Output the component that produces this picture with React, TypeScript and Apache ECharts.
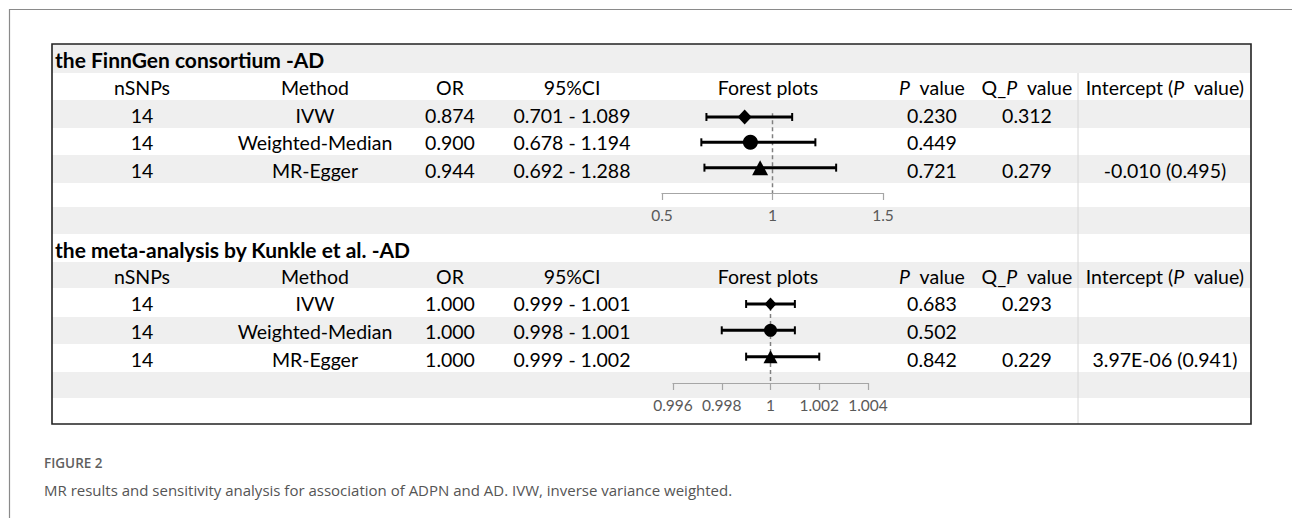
import React, { useEffect, useRef } from 'react';
import * as echarts from 'echarts';

// ---------- data ----------
const sectionTitles = ['the FinnGen consortium -AD', 'the meta-analysis by Kunkle et al. -AD'];
const methods = ['IVW', 'Weighted-Median', 'MR-Egger'];
const markerSymbols = ['diamond', 'circle', 'triangle'];

const nSNPs1 = ['14', '14', '14'];
const or1 = [0.874, 0.9, 0.944];
const lo1 = [0.701, 0.678, 0.692];
const hi1 = [1.089, 1.194, 1.288];
const p1 = ['0.230', '0.449', '0.721'];
const q1 = ['0.312', '', '0.279'];
const int1 = ['', '', '-0.010 (0.495)'];

const nSNPs2 = ['14', '14', '14'];
const or2 = [1.0, 1.0, 1.0];
const lo2 = [0.999, 0.998, 0.999];
const hi2 = [1.001, 1.001, 1.002];
const p2 = ['0.683', '0.502', '0.842'];
const q2 = ['0.293', '', '0.229'];
const int2 = ['', '', '3.97E-06 (0.941)'];

const axis1 = { min: 0.5, max: 1.5, interval: 0.5 };
const axis2 = { min: 0.996, max: 1.004, interval: 0.002 };
const refValue = 1;

// ---------- layout ----------
const FONT = 'Lato, "Noto Sans", sans-serif';
const FS = 19.5;
const rowEdges = [44, 73, 100, 128, 155, 183, 207, 234, 262, 288, 317, 344, 372, 398, 424];
const colX = [142, 315, 450, 572, 768, 932, 1027, 1165];
const TABLE_L = 52;
const TABLE_R = 1251;
const SEP_X = 1078;

function bandCenter(i: number) {
  return (rowEdges[i] + rowEdges[i + 1]) / 2 + 1;
}

function txt(text: string, x: number, y: number, extra: any = {}) {
  return {
    type: 'text',
    x,
    y,
    z: 5,
    style: {
      text,
      fill: '#000',
      fontSize: FS,
      fontFamily: FONT,
      align: 'center',
      verticalAlign: 'middle',
      ...extra,
    },
  };
}

const italicRich = {
  i: { fontStyle: 'italic', fontSize: FS, fontFamily: FONT, fill: '#000' },
};

function buildTableTexts(
  titleBand: number,
  title: string,
  nsnps: string[],
  ors: number[],
  los: number[],
  his: number[],
  ps: string[],
  qs: string[],
  ints: string[]
) {
  const out: any[] = [];
  out.push(txt(title, 55, bandCenter(titleBand), { align: 'left', fontWeight: 'bold', fontSize: 21 }));
  const hy = bandCenter(titleBand + 1);
  out.push(txt('nSNPs', colX[0], hy));
  out.push(txt('Method', colX[1], hy));
  out.push(txt('OR', colX[2], hy));
  out.push(txt('95%CI', colX[3], hy));
  out.push(txt('Forest plots', colX[4], hy));
  out.push(txt('{i|P}  value', colX[5], hy, { rich: italicRich }));
  out.push(txt('Q_{i|P}  value', colX[6], hy, { rich: italicRich }));
  out.push(txt('Intercept ({i|P}  value)', colX[7], hy, { rich: italicRich }));
  for (let r = 0; r < 3; r++) {
    const y = bandCenter(titleBand + 2 + r);
    out.push(txt(nsnps[r], colX[0], y));
    out.push(txt(methods[r], colX[1], y));
    out.push(txt(ors[r].toFixed(3), colX[2], y));
    out.push(txt(los[r].toFixed(3) + ' - ' + his[r].toFixed(3), colX[3], y));
    if (ps[r]) out.push(txt(ps[r], colX[5], y));
    if (qs[r]) out.push(txt(qs[r], colX[6], y));
    if (ints[r]) out.push(txt(ints[r], colX[7], y));
  }
  return out;
}

function ciRender(params: any, api: any) {
  const row = api.value(2);
  const a = api.coord([api.value(0), row]);
  const b = api.coord([api.value(1), row]);
  const cap = 4;
  const st = { stroke: '#000', lineWidth: 3 };
  const cs = { stroke: '#000', lineWidth: 2 };
  return {
    type: 'group',
    children: [
      { type: 'line', shape: { x1: a[0], y1: a[1], x2: b[0], y2: b[1] }, style: st },
      { type: 'line', shape: { x1: a[0], y1: a[1] - cap, x2: a[0], y2: a[1] + cap }, style: cs },
      { type: 'line', shape: { x1: b[0], y1: b[1] - cap, x2: b[0], y2: b[1] + cap }, style: cs },
    ],
  };
}

function fmtTick(v: number) {
  return String(+v.toFixed(3));
}

export default function App() {
  const ref = useRef<HTMLDivElement>(null);
  useEffect(() => {
    if (!ref.current) return;
    const chart = echarts.init(ref.current, null, { renderer: 'svg' });

    const graphics: any[] = [];
    // outer frame
    graphics.push({ type: 'line', z: 1, shape: { x1: 9, y1: 9.5, x2: 1292, y2: 9.5 }, style: { stroke: '#8a8a8a', lineWidth: 1.2 } });
    graphics.push({ type: 'line', z: 1, shape: { x1: 9.5, y1: 9, x2: 9.5, y2: 518 }, style: { stroke: '#8a8a8a', lineWidth: 1.2 } });
    // row bands
    for (let i = 0; i < rowEdges.length - 1; i++) {
      if (i % 2 === 0) {
        graphics.push({
          type: 'rect',
          z: -1,
          shape: { x: TABLE_L, y: rowEdges[i], width: TABLE_R - TABLE_L, height: rowEdges[i + 1] - rowEdges[i] },
          style: { fill: '#efefef' },
        });
      }
    }
    // separator
    graphics.push({ type: 'line', z: 1, shape: { x1: SEP_X, y1: rowEdges[1], x2: SEP_X, y2: rowEdges[14] }, style: { stroke: '#d6d6d6', lineWidth: 1 } });
    // table border
    graphics.push({
      type: 'rect',
      z: 6,
      shape: { x: TABLE_L, y: rowEdges[0], width: TABLE_R - TABLE_L, height: rowEdges[14] - rowEdges[0] },
      style: { fill: 'none', stroke: '#222', lineWidth: 1.6 },
    });

    graphics.push(...buildTableTexts(0, sectionTitles[0], nSNPs1, or1, lo1, hi1, p1, q1, int1));
    graphics.push(...buildTableTexts(7, sectionTitles[1], nSNPs2, or2, lo2, hi2, p2, q2, int2));

    // caption
    graphics.push({
      type: 'text', x: 44, y: 463, z: 5,
      style: { text: 'FIGURE 2', fill: '#5f5f5f', fontSize: 13.5, fontWeight: 600, fontFamily: '"Open Sans", "Noto Sans", sans-serif', align: 'left', verticalAlign: 'middle' },
    });
    graphics.push({
      type: 'text', x: 44, y: 490, z: 5,
      style: {
        text: 'MR results and sensitivity analysis for association of ADPN and AD. IVW, inverse variance weighted.',
        fill: '#555', fontSize: 15, fontWeight: 'normal', fontFamily: '"Open Sans", "Noto Sans", sans-serif', align: 'left', verticalAlign: 'middle',
      },
    });

    const axisCommon = {
      type: 'value',
      position: 'bottom',
      splitLine: { show: false },
      axisLine: { show: true, onZero: false, lineStyle: { color: '#a6a6a6', width: 1.2 } },
      axisTick: { show: true, length: 7, lineStyle: { color: '#a6a6a6', width: 1.2 } },
      axisLabel: { color: '#595959', fontSize: 15.5, fontFamily: FONT, margin: 14, formatter: fmtTick },
    };
    const yCommon = { type: 'value', inverse: true, min: -0.2, max: 3, show: false };

    const makeSeries = (idx: number, ors: number[], los: number[], his: number[], sizes: any[]) => [
      {
        type: 'line',
        xAxisIndex: idx,
        yAxisIndex: idx,
        data: [[refValue, -0.15], [refValue, 3]],
        symbol: 'none',
        lineStyle: { color: '#808080', width: 1.5, type: [4, 3] },
        z: 1,
        silent: true,
      },
      {
        type: 'custom',
        xAxisIndex: idx,
        yAxisIndex: idx,
        renderItem: ciRender,
        encode: { x: [0, 1], y: 2 },
        data: los.map((l, i) => [l, his[i], i]),
        z: 2,
      },
      {
        type: 'scatter',
        xAxisIndex: idx,
        yAxisIndex: idx,
        itemStyle: { color: '#000', opacity: 1 },
        data: ors.map((v, i) => ({ value: [v, i], symbol: markerSymbols[i], symbolSize: sizes[i] })),
        z: 3,
      },
    ];

    chart.setOption({
      animation: false,
      backgroundColor: '#fff',
      grid: [
        { left: 662, width: 221, top: 111.9, height: 81.1 },
        { left: 673, width: 195, top: 298.7, height: 84.3 },
      ],
      xAxis: [
        { ...axisCommon, gridIndex: 0, min: axis1.min, max: axis1.max, interval: axis1.interval },
        { ...axisCommon, gridIndex: 1, min: axis2.min, max: axis2.max, interval: axis2.interval },
      ],
      yAxis: [
        { ...yCommon, gridIndex: 0 },
        { ...yCommon, gridIndex: 1 },
      ],
      graphic: { elements: graphics },
      series: [
        ...makeSeries(0, or1, lo1, hi1, [[14, 15], 15, [16, 15]]),
        ...makeSeries(1, or2, lo2, hi2, [[12, 13], 13, [14, 13]]),
      ],
    });

    return () => chart.dispose();
  }, []);
  return (
    <div
      ref={ref}
      style={{ position: 'fixed', left: 0, top: 0, width: 1292, height: 518, background: '#fff' }}
    />
  );
}
